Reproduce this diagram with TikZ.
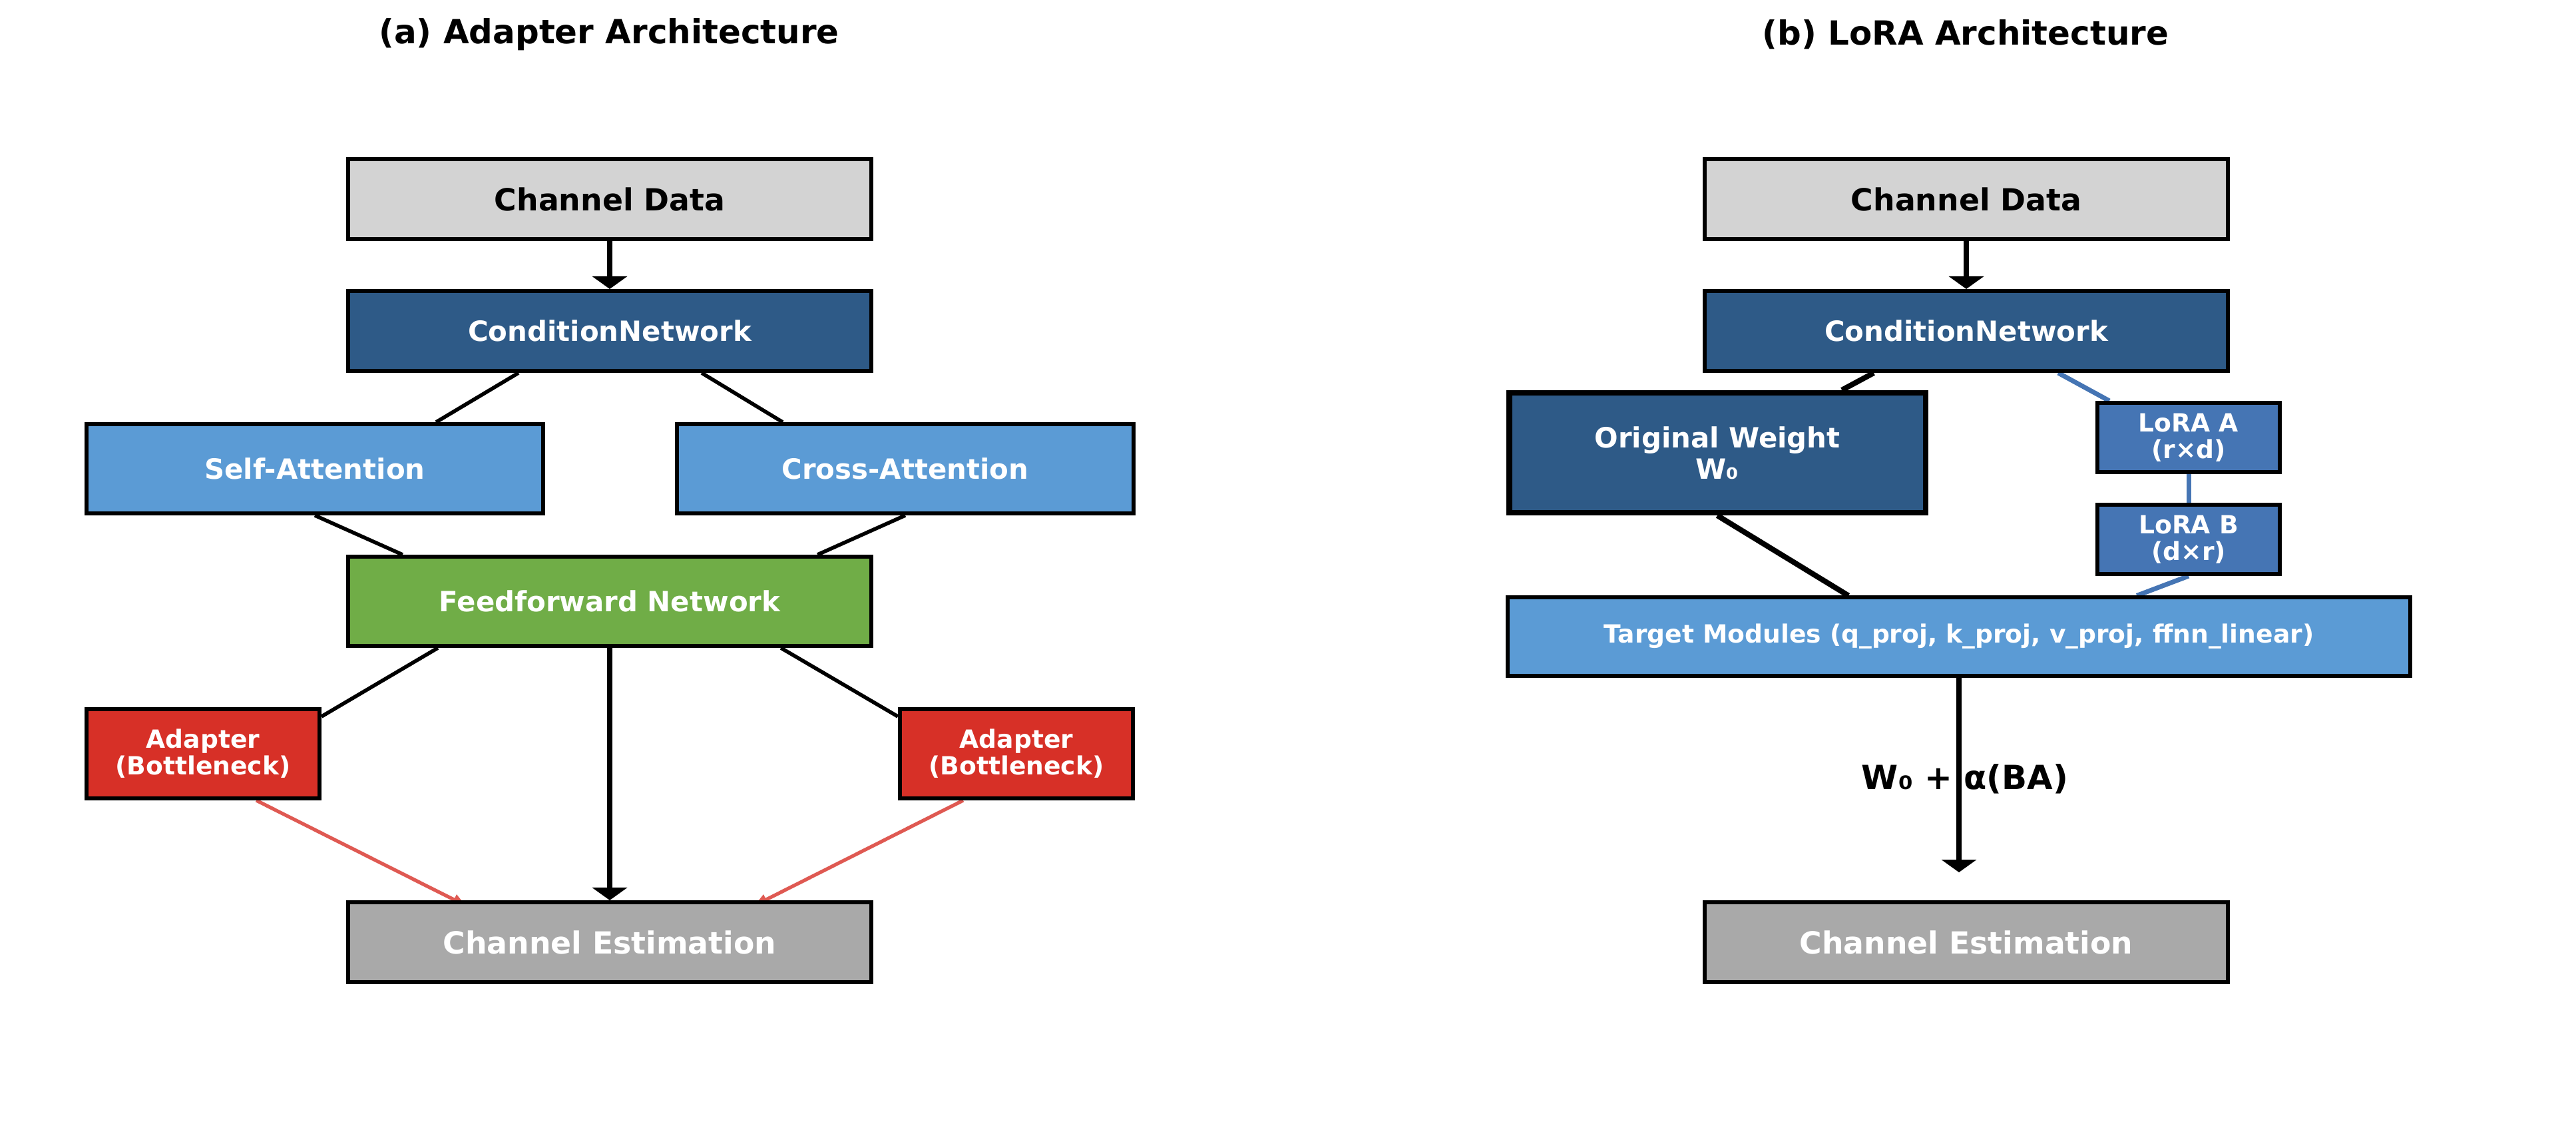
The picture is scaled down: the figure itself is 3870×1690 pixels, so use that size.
\documentclass[tikz,border=0pt]{standalone}
\usepackage{fontspec}
\setmainfont{DejaVu Sans}
\usetikzlibrary{arrows.meta,backgrounds}

\definecolor{gris}{HTML}{D3D3D3}
\definecolor{grisfonce}{HTML}{A9A9A9}
\definecolor{bleufonce}{HTML}{2E5A87}
\definecolor{bleuclair}{HTML}{5B9BD5}
\definecolor{bleulora}{HTML}{4575B4}
\definecolor{vert}{HTML}{70AD47}
\definecolor{rouge}{HTML}{D73027}
\definecolor{rougeclair}{RGB}{223,89,82}

\tikzset{
  boite/.style={rectangle, draw=black, line width=1.7pt, inner sep=0pt, align=center, text=white},
  grand/.style={boite, minimum width=7.85cm, minimum height=1.2cm, font=\fontsize{13}{15}\selectfont\bfseries},
  moyen/.style={boite, minimum height=1.34cm, font=\fontsize{11.9}{13.4}\selectfont\bfseries},
  petit/.style={boite, font=\fontsize{10.7}{11.3}\selectfont\bfseries},
  titre/.style={font=\fontsize{14.2}{17}\selectfont\bfseries},
  lien/.style={line width=1.6pt},
  lienfort/.style={line width=2.3pt},
  lienbleu/.style={line width=2pt, draw=bleulora},
  fleche/.style={line width=2.5pt, -{Triangle[width=0.52cm,length=0.19cm]}},
  flecherouge/.style={line width=1.5pt, draw=rougeclair, -{Triangle[width=0.16cm,length=0.2cm]}}
}

\begin{document}
\begin{tikzpicture}[x=0.01cm, y=-0.01cm]
\useasboundingbox (0,0) rectangle (3870,1690);

% Titres
\node[titre] (titreA) at (915,52) {(a) Adapter Architecture};
\node[titre] (titreB) at (2953,52) {(b) LoRA Architecture};

% (a) Adapter : boites
\node[grand, fill=gris, text=black] (cd1) at (916,299) {Channel Data};
\node[grand, fill=bleufonce, font=\fontsize{11.9}{13.4}\selectfont\bfseries] (cn1) at (916,497) {ConditionNetwork};
\node[moyen, fill=bleuclair, minimum width=6.86cm] (sa) at (473,704) {Self-Attention};
\node[moyen, fill=bleuclair, minimum width=6.86cm] (ca) at (1360,704) {Cross-Attention};
\node[moyen, fill=vert, minimum width=7.85cm] (ff) at (916,903) {Feedforward Network};
\node[petit, fill=rouge, minimum width=3.5cm, minimum height=1.34cm] (ad1) at (305,1132) {Adapter\\(Bottleneck)};
\node[petit, fill=rouge, minimum width=3.5cm, minimum height=1.34cm] (ad2) at (1527,1132) {Adapter\\(Bottleneck)};
\node[grand, fill=grisfonce] (ce1) at (916,1415) {Channel Estimation};

% (b) LoRA : boites
\node[grand, fill=gris, text=black] (cd2) at (2954,299) {Channel Data};
\node[grand, fill=bleufonce, font=\fontsize{11.9}{13.4}\selectfont\bfseries] (cn2) at (2954,497) {ConditionNetwork};
\node[moyen, fill=bleufonce, line width=2.37pt, minimum width=6.25cm, minimum height=1.8cm] (ow) at (2580,680) {Original Weight\\W₀};
\node[petit, fill=bleulora, minimum width=2.73cm, minimum height=1.04cm] (la) at (3288,657) {LoRA A\\(r×d)};
\node[petit, fill=bleulora, minimum width=2.73cm, minimum height=1.04cm] (lb) at (3288,810) {LoRA B\\(d×r)};
\node[petit, fill=bleuclair, minimum width=13.55cm, minimum height=1.17cm] (tm) at (2943,956) {Target Modules (q\_proj, k\_proj, v\_proj, ffnn\_linear)};
\node[grand, fill=grisfonce] (ce2) at (2954,1415) {Channel Estimation};
\coordinate (fin) at (2943,1310);

\begin{scope}[on background layer]
% (a) liens
\draw[fleche] (cd1) -- (cn1);
\draw[lien] ([xshift=-1.37cm]cn1.south) -- ([xshift=1.82cm]sa.north);
\draw[lien] ([xshift=1.38cm]cn1.south) -- ([xshift=-1.84cm]ca.north);
\draw[lien] (sa.south) -- ([xshift=-3.11cm]ff.north);
\draw[lien] (ca.south) -- ([xshift=3.12cm]ff.north);
\draw[lien] ([xshift=-2.58cm]ff.south) -- ([yshift=-0.14cm]ad1.north east);
\draw[lien] ([xshift=2.57cm]ff.south) -- ([yshift=-0.14cm]ad2.north west);
\draw[fleche] (ff) -- (ce1);
\draw[flecherouge] ([xshift=0.8cm]ad1.south) -- ([xshift=-2.16cm,yshift=-0.08cm]ce1.north);
\draw[flecherouge] ([xshift=-0.8cm]ad2.south) -- ([xshift=2.17cm,yshift=-0.08cm]ce1.north);

% (b) liens
\draw[fleche] (cd2) -- (cn2);
\draw[lienfort] ([xshift=-1.39cm]cn2.south) -- ([xshift=1.87cm]ow.north);
\draw[lienbleu] ([xshift=1.38cm]cn2.south) -- ([xshift=-1.19cm]la.north);
\draw[lienbleu] (la) -- (lb);
\draw[lienbleu] (lb.south) -- ([xshift=2.67cm]tm.north);
\draw[lienfort] (ow.south) -- ([xshift=-1.66cm]tm.north);
\draw[fleche] (tm) -- (fin);
\end{scope}

% formule
\node[titre] (formule) at (2952,1170) {W₀ + α(BA)};

\end{tikzpicture}
\end{document}
